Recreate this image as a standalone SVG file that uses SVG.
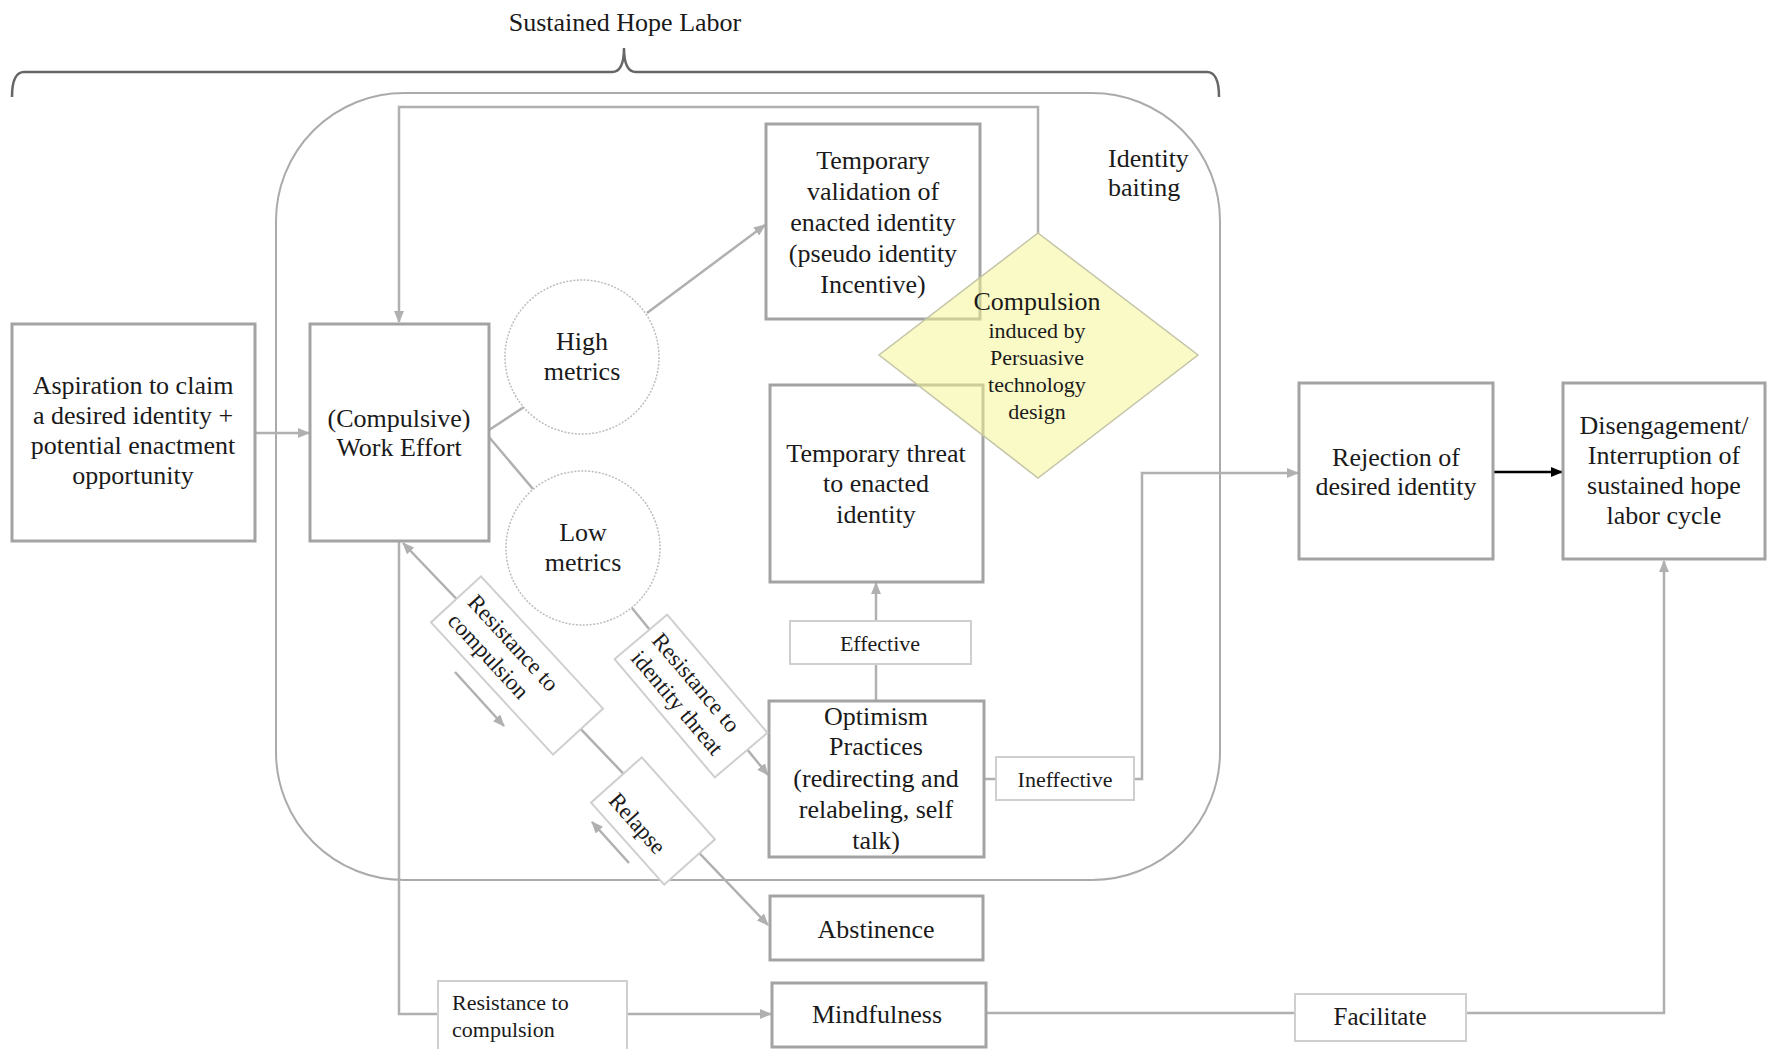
<svg xmlns="http://www.w3.org/2000/svg" width="1767" height="1049" viewBox="0 0 1767 1049">
<defs>
<marker id="ag" markerUnits="userSpaceOnUse" markerWidth="12" markerHeight="10" refX="11" refY="5" orient="auto"><path d="M0,0 L12,5 L0,10 z" fill="#b0b0b0"/></marker>
<marker id="ags" markerUnits="userSpaceOnUse" markerWidth="12" markerHeight="10" refX="11" refY="5" orient="auto-start-reverse"><path d="M0,0 L12,5 L0,10 z" fill="#b0b0b0"/></marker>
<marker id="ab" markerUnits="userSpaceOnUse" markerWidth="12" markerHeight="10" refX="11" refY="5" orient="auto"><path d="M0,0 L12,5 L0,10 z" fill="#000"/></marker>
</defs>
<style>
text{font-family:"Liberation Serif","Times New Roman",serif;fill:#1a1a1a;font-size:26px}
.c{text-anchor:middle}
.s{font-size:22px}
.r{font-size:23px}
.box{fill:#fff;stroke:#a3a3a3;stroke-width:3}
.lab{fill:#fff;stroke:#cfcfcf;stroke-width:2}
.ln{fill:none;stroke:#b0b0b0;stroke-width:2.5}
.circ{fill:#fff;stroke:#bdbdbd;stroke-width:1.5;stroke-dasharray:2 1.5}
</style>
<rect width="1767" height="1049" fill="#fff"/>

<g id="header">
<text class="c" x="625" y="31">Sustained Hope Labor</text>
<path d="M12,97 Q12,72 24,72 L612,72 Q624,72 624,48 Q624,72 636,72 L1207,72 Q1219,72 1219,97" fill="none" stroke="#666" stroke-width="2.5"/>
</g>

<g id="sustained-frame">
<rect x="276" y="93" width="944" height="787" rx="128" ry="128" fill="none" stroke="#ababab" stroke-width="2"/>
<text x="1108" y="167">Identity</text>
<text x="1108" y="196">baiting</text>
</g>

<g id="connectors">
<line class="ln" x1="255" y1="433" x2="309" y2="433" marker-end="url(#ag)"/>
<line class="ln" x1="489" y1="430" x2="524" y2="407"/>
<line class="ln" x1="489" y1="437" x2="533" y2="489"/>
<line class="ln" x1="647" y1="313" x2="765" y2="225" marker-end="url(#ag)"/>
<polyline class="ln" points="1038,233 1038,107 399,107 399,322" marker-end="url(#ag)"/>
<line class="ln" x1="632" y1="608" x2="768" y2="775" marker-end="url(#ag)"/>
<line class="ln" x1="403" y1="543" x2="768" y2="925" marker-start="url(#ags)" marker-end="url(#ag)"/>
<line class="ln" x1="455" y1="672" x2="504" y2="726" stroke-width="2" marker-end="url(#ag)"/>
<line class="ln" x1="629" y1="863" x2="592" y2="822" stroke-width="2" marker-end="url(#ag)"/>
<line class="ln" x1="876" y1="701" x2="876" y2="583" marker-end="url(#ag)"/>
<polyline class="ln" points="984,779 1142,779 1142,473 1298,473" marker-end="url(#ag)"/>
<line x1="1493" y1="472" x2="1562" y2="472" stroke="#000" stroke-width="2.5" marker-end="url(#ab)"/>
<polyline class="ln" points="399,541 399,1014 771,1014" marker-end="url(#ag)"/>
<polyline class="ln" points="986,1013 1664,1013 1664,561" marker-end="url(#ag)"/>
</g>

<g id="aspiration">
<rect class="box" x="12" y="324" width="243" height="217"/>
<text class="c" x="133" y="394">Aspiration to claim</text>
<text class="c" x="133" y="424">a desired identity +</text>
<text class="c" x="133" y="454">potential enactment</text>
<text class="c" x="133" y="484">opportunity</text>
</g>

<g id="work-effort">
<rect class="box" x="310" y="324" width="179" height="217"/>
<text class="c" x="399" y="427">(Compulsive)</text>
<text class="c" x="399" y="456">Work Effort</text>
</g>

<g id="high-metrics">
<circle class="circ" cx="582" cy="357" r="77"/>
<text class="c" x="582" y="350">High</text>
<text class="c" x="582" y="380">metrics</text>
</g>

<g id="low-metrics">
<circle class="circ" cx="583" cy="548" r="77"/>
<text class="c" x="583" y="541">Low</text>
<text class="c" x="583" y="571">metrics</text>
</g>

<g id="temporary-validation">
<rect class="box" x="766" y="124" width="214" height="195"/>
<text class="c" x="873" y="169">Temporary</text>
<text class="c" x="873" y="200">validation of</text>
<text class="c" x="873" y="231">enacted identity</text>
<text class="c" x="873" y="262">(pseudo identity</text>
<text class="c" x="873" y="293">Incentive)</text>
</g>

<g id="temporary-threat">
<rect class="box" x="770" y="385" width="213" height="197"/>
<text class="c" x="876" y="462">Temporary threat</text>
<text class="c" x="876" y="492">to enacted</text>
<text class="c" x="876" y="523">identity</text>
</g>

<g id="compulsion">
<polygon points="1038,233 1198,355 1038,478 879,355" fill="#f6f690" fill-opacity="0.5" stroke="#c4c4a8" stroke-width="1.5"/>
<text class="c" x="1037" y="310">Compulsion</text>
<text class="c s" x="1037" y="338">induced by</text>
<text class="c s" x="1037" y="365">Persuasive</text>
<text class="c s" x="1037" y="392">technology</text>
<text class="c s" x="1037" y="419">design</text>
</g>

<g id="effective">
<rect class="lab" x="790" y="621" width="181" height="43"/>
<text class="c s" x="880" y="651">Effective</text>
</g>

<g id="optimism">
<rect class="box" x="769" y="701" width="215" height="156"/>
<text class="c" x="876" y="725">Optimism</text>
<text class="c" x="876" y="755">Practices</text>
<text class="c" x="876" y="787">(redirecting and</text>
<text class="c" x="876" y="818">relabeling, self</text>
<text class="c" x="876" y="849">talk)</text>
</g>

<g id="ineffective">
<rect class="lab" x="996" y="757" width="138" height="43"/>
<text class="c s" x="1065" y="787">Ineffective</text>
</g>

<g id="resistance-compulsion-label">
<g transform="translate(517,665.5) rotate(47.3)">
<rect class="lab" x="-90" y="-34" width="180" height="68"/>
<text class="r" x="-80" y="-5">Resistance to</text>
<text class="r" x="-80" y="22">compulsion</text>
</g>
</g>

<g id="resistance-identity-label">
<g transform="translate(691,696) rotate(49.7)">
<rect class="lab" x="-77.5" y="-34.5" width="155" height="69"/>
<text class="r" x="-68" y="-5">Resistance to</text>
<text class="r" x="-68" y="22.5">identity threat</text>
</g>
</g>

<g id="relapse-label">
<g transform="translate(653,821) rotate(48.3)">
<rect class="lab" x="-55" y="-34" width="110" height="68"/>
<text class="r" x="-45" y="21">Relapse</text>
</g>
</g>

<g id="abstinence">
<rect class="box" x="770" y="896" width="213" height="64"/>
<text class="c" x="876" y="938">Abstinence</text>
</g>

<g id="resistance-compulsion-bottom">
<rect class="lab" x="438" y="981" width="189" height="70"/>
<text class="s" x="452" y="1010">Resistance to</text>
<text class="s" x="452" y="1037">compulsion</text>
</g>

<g id="mindfulness">
<rect class="box" x="772" y="983" width="214" height="64"/>
<text class="c" x="877" y="1023">Mindfulness</text>
</g>

<g id="facilitate">
<rect class="lab" x="1295" y="994" width="171" height="47"/>
<text class="c" x="1380" y="1025" style="font-size:25px">Facilitate</text>
</g>

<g id="rejection">
<rect class="box" x="1299" y="383" width="194" height="176"/>
<text class="c" x="1396" y="466">Rejection of</text>
<text class="c" x="1396" y="495">desired identity</text>
</g>

<g id="disengagement">
<rect class="box" x="1563" y="383" width="202" height="176"/>
<text class="c" x="1664" y="434">Disengagement/</text>
<text class="c" x="1664" y="464">Interruption of</text>
<text class="c" x="1664" y="494">sustained hope</text>
<text class="c" x="1664" y="524">labor cycle</text>
</g>
</svg>
